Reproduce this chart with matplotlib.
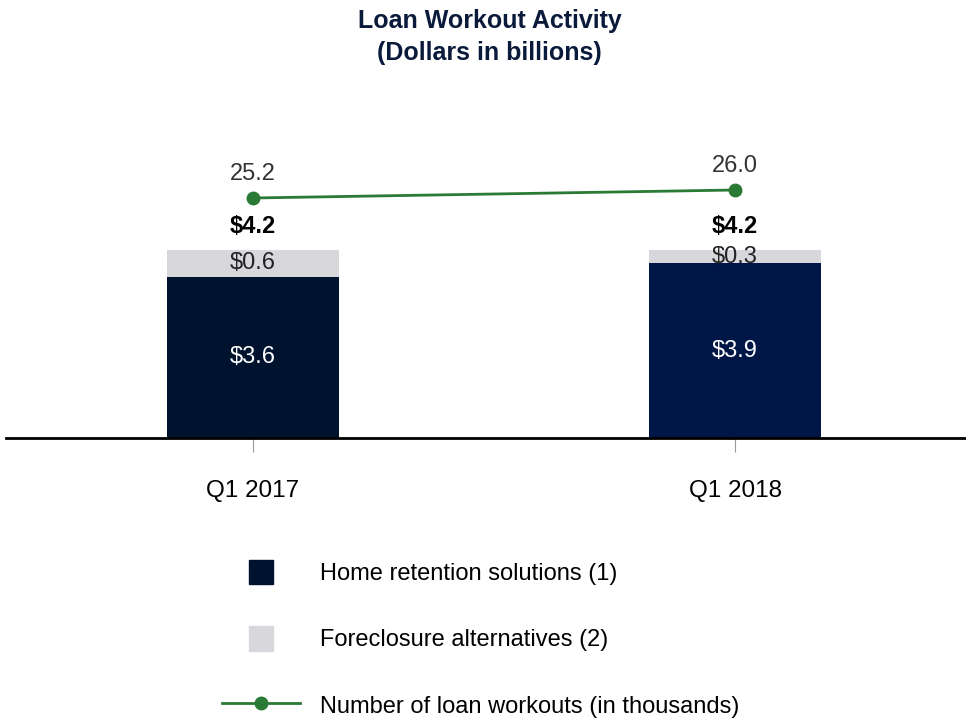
import matplotlib.pyplot as plt
from matplotlib.patches import Rectangle
from matplotlib.legend_handler import HandlerPatch
from matplotlib.lines import Line2D

plt.rcParams['font.family'] = ['Liberation Sans', 'DejaVu Sans']

# data
quarters = ['Q1 2017', 'Q1 2018']
home_retention = [3.6, 3.9]
foreclosure_alt = [0.6, 0.3]
totals = [4.2, 4.2]
workouts = [25.2, 26.0]

home_colors = ['#00132e', '#001646']
gray = '#d8d7dc'
green = '#2a7a35'
navy_title = '#0a1a3a'

fig = plt.figure(figsize=(9.66, 7.19), dpi=100)
ax = fig.add_axes([6 / 966, 1 - 438 / 719, 960 / 966, 318 / 719])
x = list(range(len(quarters)))
w = 0.357

ax.bar(x, home_retention, width=w, color=home_colors, zorder=2)
ax.bar(x, foreclosure_alt, width=w, bottom=home_retention, color=gray, zorder=2)
ax.set_xlim(-0.512, 1.479)
ax.set_ylim(0, 318 / 44.8)

for i in x:
    ax.text(i, home_retention[i] / 2, f'${home_retention[i]:.1f}', ha='center', va='center',
            color='white', fontsize=17)
    ax.text(i, home_retention[i] + foreclosure_alt[i] / 2, f'${foreclosure_alt[i]:.1f}',
            ha='center', va='center', color='#222222', fontsize=17, zorder=3)
    ax.annotate(f'${totals[i]:.1f}', (i, totals[i]), xytext=(0, 17), textcoords='offset points',
                ha='center', va='center', fontsize=17, fontweight='bold', color='black')

for s in ['top', 'right', 'left']:
    ax.spines[s].set_visible(False)
ax.spines['bottom'].set_linewidth(2)
ax.spines['bottom'].set_zorder(4)
ax.set_yticks([])
ax.set_xticks(x)
ax.set_xticklabels(quarters, fontsize=17.5)
ax.tick_params(axis='x', direction='out', length=10, width=0.8, color='#999999', pad=20)

ax2 = ax.twinx()
ax2.set_ylim(1.2, 1.2 + 31.8)
ax2.axis('off')
ax2.plot(x, workouts, color=green, linewidth=2, marker='o', markersize=9)
for i in x:
    ax2.annotate(f'{workouts[i]:.1f}', (i, workouts[i]), xytext=(0, 17), textcoords='offset points',
                 ha='center', va='center', fontsize=17, color='#333333')

fig.text(0.507, 0.988, 'Loan Workout Activity\n(Dollars in billions)', ha='center', va='top',
         fontsize=18, fontweight='bold', color=navy_title, linespacing=1.45)


def square_patch(legend, orig_handle, xdescent, ydescent, width, height, fontsize):
    s = height
    return Rectangle((width / 2 - s / 2 - xdescent, -ydescent), s, s)


handles = [Rectangle((0, 0), 1, 1, color=home_colors[0]),
           Rectangle((0, 0), 1, 1, color=gray),
           Line2D([], [], color=green, linewidth=2, marker='o', markersize=9)]
labels = ['Home retention solutions (1)', 'Foreclosure alternatives (2)',
          'Number of loan workouts (in thousands)']
fig.legend(handles, labels, loc='upper left', bbox_to_anchor=(222 / 966, 1 - 560 / 719),
           frameon=False, fontsize=17, handlelength=3.3, handleheight=1.2,
           handletextpad=0.85, labelspacing=1.75, borderpad=0, borderaxespad=0,
           handler_map={Rectangle: HandlerPatch(patch_func=square_patch)})

fig.savefig('out.png', dpi=100)
